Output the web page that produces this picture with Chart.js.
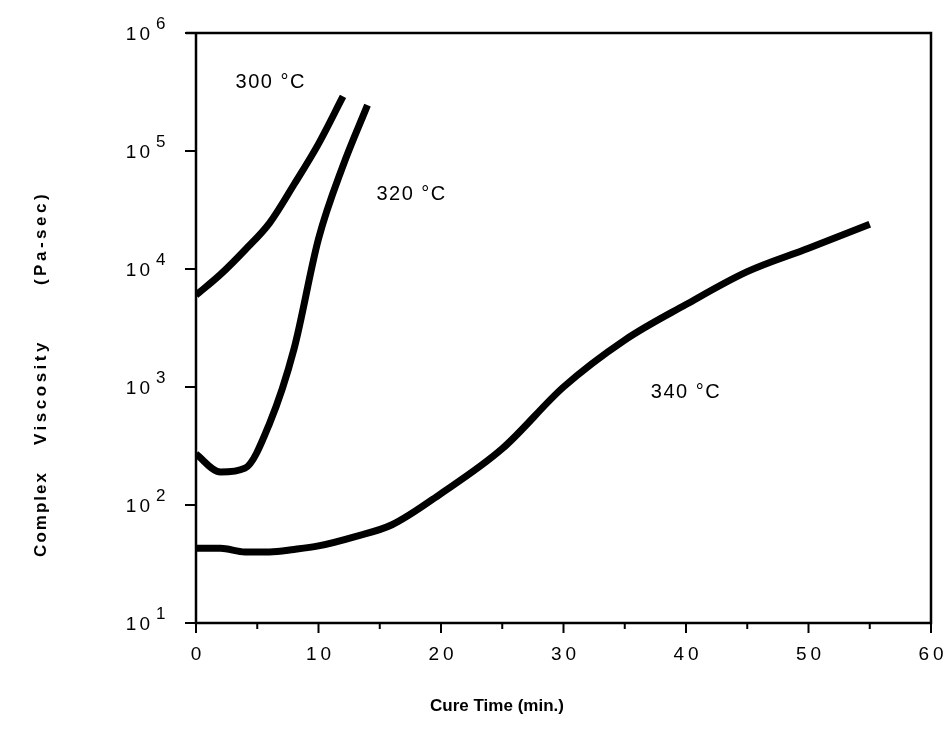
<!DOCTYPE html>
<html>
<head>
<meta charset="utf-8">
<script src="https://cdn.jsdelivr.net/npm/chart.js@4/dist/chart.umd.min.js"></script>
<style>
  html, body { margin: 0; padding: 0; background: #fff; }
  #wrap { width: 947px; height: 743px; }
</style>
</head>
<body>
<div id="wrap"><canvas id="chart" width="947" height="743"></canvas></div>
<script>
// Cure time (min.) and complex viscosity (Pa-sec)
const time300 = [0, 2, 4, 6, 8, 10, 12];
const visc300 = [6000, 9000, 14500, 24500, 52000, 115000, 290000];

const time320 = [0, 2, 4, 6, 8, 10, 12, 14];
const visc320 = [270, 190, 205, 490, 2100, 18000, 75000, 245000];

const time340 = [0, 2, 4, 6, 8, 10, 13, 16, 20, 25, 30, 35, 40, 45, 50, 55];
const visc340 = [43, 43, 40, 40, 42, 45, 54, 68, 125, 300, 1000, 2500, 5000, 9500, 15000, 24000];

const xMajorTicks = [0, 10, 20, 30, 40, 50, 60];
const xMinorTicks = [5, 15, 25, 35, 45, 55];
const yTickExponents = [1, 2, 3, 4, 5, 6];

const curveLabels = [
  { text: '300 °C', x: 6.1, y: 380000 },
  { text: '320 °C', x: 17.6, y: 43000 },
  { text: '340 °C', x: 40, y: 900 }
];

const FONT = '"Liberation Sans", Arial, Helvetica, sans-serif';

function toPoints(xs, ys) {
  return xs.map((x, i) => ({ x: x, y: ys[i] }));
}

function lineSet(xs, ys) {
  return {
    data: toPoints(xs, ys),
    borderColor: '#000',
    borderWidth: 7,
    borderCapStyle: 'butt',
    borderJoinStyle: 'round',
    pointRadius: 0,
    fill: false,
    cubicInterpolationMode: 'monotone'
  };
}

// draws frame, ticks, tick labels, titles and curve labels
const axesPlugin = {
  id: 'axesPlugin',
  afterDraw(chart) {
    const ctx = chart.ctx;
    const xs = chart.scales.x;
    const ys = chart.scales.y;
    const a = chart.chartArea;
    ctx.save();
    ctx.strokeStyle = '#000';
    ctx.fillStyle = '#000';

    // frame
    ctx.lineWidth = 2.5;
    ctx.beginPath();
    ctx.moveTo(a.left, a.top);
    ctx.lineTo(a.left, a.bottom);
    ctx.lineTo(a.right, a.bottom);
    ctx.lineTo(a.right, a.top);
    ctx.lineTo(a.left - 10, a.top);
    ctx.stroke();

    // x ticks
    ctx.lineWidth = 2;
    xMajorTicks.forEach(v => {
      const px = xs.getPixelForValue(v);
      ctx.beginPath();
      ctx.moveTo(px, a.bottom);
      ctx.lineTo(px, a.bottom + 10);
      ctx.stroke();
    });
    xMinorTicks.forEach(v => {
      const px = xs.getPixelForValue(v);
      ctx.beginPath();
      ctx.moveTo(px, a.bottom);
      ctx.lineTo(px, a.bottom + 6);
      ctx.stroke();
    });

    // y ticks
    yTickExponents.forEach(e => {
      const py = ys.getPixelForValue(Math.pow(10, e));
      ctx.beginPath();
      ctx.moveTo(a.left - 11, py);
      ctx.lineTo(a.left, py);
      ctx.stroke();
    });

    // x tick labels
    ctx.font = '19px ' + FONT;
    ctx.letterSpacing = '4px';
    ctx.textAlign = 'center';
    ctx.textBaseline = 'middle';
    xMajorTicks.forEach(v => {
      const px = xs.getPixelForValue(v);
      ctx.fillText(String(v), px + 2, a.bottom + 32);
    });
    ctx.letterSpacing = '0px';

    // y tick labels: 10 with raised exponent
    yTickExponents.forEach(e => {
      const py = ys.getPixelForValue(Math.pow(10, e));
      ctx.font = '19px ' + FONT;
      ctx.textAlign = 'right';
      ctx.textBaseline = 'middle';
      ctx.letterSpacing = '3px';
      ctx.fillText('10', a.left - 43, py + 2);
      ctx.letterSpacing = '0px';
      ctx.font = '17px ' + FONT;
      ctx.textAlign = 'left';
      ctx.fillText(String(e), a.left - 40, py - 9);
    });

    // curve labels
    ctx.font = '20px ' + FONT;
    ctx.letterSpacing = '1.5px';
    ctx.textAlign = 'center';
    ctx.textBaseline = 'middle';
    curveLabels.forEach(l => {
      ctx.fillText(l.text, xs.getPixelForValue(l.x), ys.getPixelForValue(l.y));
    });
    ctx.letterSpacing = '0px';

    // axis titles
    ctx.font = 'bold 17px ' + FONT;
    ctx.textAlign = 'center';
    ctx.textBaseline = 'middle';
    ctx.fillText('Cure Time (min.)', 497, 706);

    ctx.save();
    ctx.translate(41, 0);
    ctx.rotate(-Math.PI / 2);
    ctx.letterSpacing = '2px';
    ctx.fillText('Complex', -514, 0);
    ctx.letterSpacing = '3.5px';
    ctx.fillText('Viscosity', -392, 0);
    ctx.fillText('(Pa-sec)', -238, 0);
    ctx.restore();

    ctx.restore();
  }
};

new Chart(document.getElementById('chart'), {
  type: 'line',
  data: {
    datasets: [
      lineSet(time300, visc300),
      lineSet(time320, visc320),
      lineSet(time340, visc340)
    ]
  },
  options: {
    responsive: false,
    animation: false,
    layout: { padding: { left: 196, top: 33, right: 16, bottom: 120 } },
    plugins: { legend: { display: false }, tooltip: { enabled: false } },
    scales: {
      x: { type: 'linear', min: 0, max: 60, display: false },
      y: { type: 'logarithmic', min: 10, max: 1000000, display: false }
    }
  },
  plugins: [axesPlugin]
});
</script>
</body>
</html>
